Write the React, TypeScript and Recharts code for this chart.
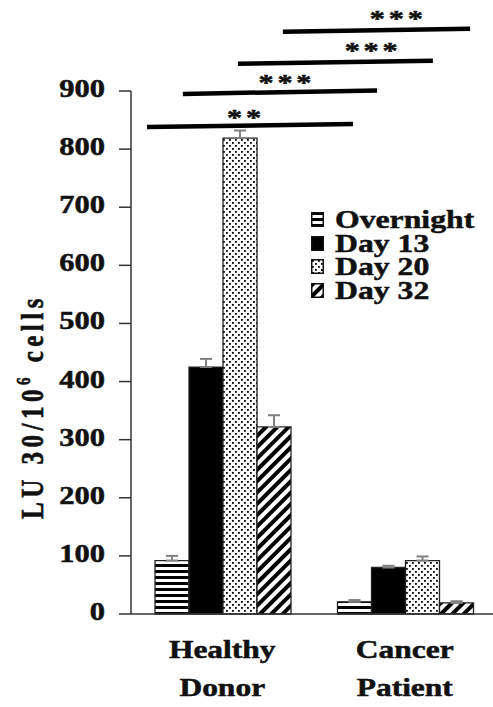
import { Bar, BarChart, ErrorBar, Legend, ReferenceDot, ReferenceLine, XAxis, YAxis } from "recharts";

const categories = ["Healthy Donor", "Cancer Patient"];
const seriesNames = ["Overnight", "Day 13", "Day 20", "Day 32"];
const overnight = [92, 21];
const day13 = [425, 80];
const day20 = [819, 92];
const day32 = [322, 19];
const overnightErr = [8, 3];
const day13Err = [14, 3];
const day20Err = [13, 7];
const day32Err = [20, 3];
const yTicks = [0, 100, 200, 300, 400, 500, 600, 700, 800, 900];

// significance bars: x as fraction of plot width (groups centred at 0.25 and 0.75), y in LU
const sigStartX = [0.044, 0.142, 0.293, 0.416];
const sigEndX = [0.608, 0.674, 0.827, 0.929];
const sigStartY = [838, 895, 947, 1002];
const sigEndY = [843, 901, 952, 1007];
const sigLabels = ["**", "***", "***", "***"];
const sigLabelX = [0.315, 0.427, 0.663, 0.732];
const sigLabelY = [860, 921, 976, 1030];

const FONT = "'Liberation Serif', 'Times New Roman', serif";
const STRETCH = 1.26;

const fills = ["url(#hstripe)", "#000", "url(#dots)", "url(#diag)"];
const keys = ["overnight", "day13", "day20", "day32"];

const data = categories.map((name, i) => ({
  name,
  overnight: overnight[i],
  day13: day13[i],
  day20: day20[i],
  day32: day32[i],
  overnightErr: [0, overnightErr[i]],
  day13Err: [0, day13Err[i]],
  day20Err: [0, day20Err[i]],
  day32Err: [0, day32Err[i]],
}));

const textStyle = { fontFamily: FONT, fontWeight: "bold" as const, fill: "#111", stroke: "#111", strokeWidth: 0.5 };

const YTick = ({ x, y, payload }: any) => (
  <g transform={`translate(${x},${y})`}>
    <text transform="scale(1.22,1)" textAnchor="end" dy={6} fontSize={25} {...textStyle}>
      {payload.value}
    </text>
  </g>
);

const XTick = ({ x, y, payload }: any) => {
  const parts = String(payload.value).split(" ");
  return (
    <g transform={`translate(${x},${y})`}>
      {parts.map((p, i) => (
        <text key={p} transform={`scale(${STRETCH},1)`} textAnchor="middle" y={44 + i * 38} fontSize={25} {...textStyle}>
          {p}
        </text>
      ))}
    </g>
  );
};

const YLabel = ({ viewBox }: any) => {
  const cx = viewBox.x + 43;
  const cy = viewBox.y + viewBox.height / 2 + 54;
  return (
    <text
      transform={`translate(${cx},${cy}) rotate(-90) scale(1,${STRETCH})`}
      textAnchor="middle"
      fontSize={25}
      letterSpacing={4.5}
      {...textStyle}
    >
      LU 30/10<tspan fontSize={15} dy={-10}>6</tspan>
      <tspan dy={10}> cells</tspan>
    </text>
  );
};

const Stars = (label: string) => (p: any) => (
  <text transform={`translate(${p.cx},${p.cy}) scale(${STRETCH},1)`} textAnchor="middle" dy={11} fontSize={24} letterSpacing={3} {...textStyle}>
    {label}
  </text>
);

const LegendBox = () => (
  <div style={{ fontFamily: FONT, fontWeight: "bold", fontSize: 26, color: "#111", WebkitTextStroke: "0.5px #111" }}>
    {seriesNames.map((n, i) => (
      <div key={n} style={{ display: "flex", alignItems: "center", height: 23.5 }}>
        <svg width={13} height={15} style={{ display: "block" }}>
          <rect x={0.75} y={0.75} width={11.5} height={13.5} fill={fills[i]} stroke="#111" strokeWidth={1.5} />
        </svg>
        <span style={{ marginLeft: 11, display: "inline-block", transform: `scaleX(${STRETCH - 0.04})`, transformOrigin: "left center", lineHeight: "23px", whiteSpace: "nowrap" }}>
          {n}
        </span>
      </div>
    ))}
  </div>
);

export default function App() {
  return (
    <div style={{ position: "fixed", left: 0, top: 0, width: 493, height: 707, overflow: "hidden", background: "#fff" }}>
      <svg width={0} height={0} style={{ position: "absolute" }}>
        <defs>
          <pattern id="hstripe" patternUnits="userSpaceOnUse" width={6} height={6}>
            <rect width={6} height={6} fill="#fff" />
            <rect width={6} height={3} fill="#000" />
          </pattern>
          <pattern id="dots" patternUnits="userSpaceOnUse" width={6} height={6}>
            <rect width={6} height={6} fill="#fff" />
            <rect x={1} y={1} width={1.8} height={1.8} fill="#000" />
            <rect x={4} y={4} width={1.8} height={1.8} fill="#000" />
          </pattern>
          <pattern id="diag" patternUnits="userSpaceOnUse" width={8} height={8} patternTransform="rotate(45)">
            <rect width={8} height={8} fill="#fff" />
            <rect width={4} height={8} fill="#000" />
          </pattern>
        </defs>
      </svg>
      <BarChart
        width={500}
        height={707}
        data={data}
        margin={{ top: 91, right: 4, bottom: 0, left: 0 }}
        barCategoryGap={24}
        barGap={0}
      >
        <XAxis dataKey="name" height={93} tick={<XTick />} tickLine={false} tickSize={0} tickMargin={0} axisLine={{ stroke: "#333", strokeWidth: 1.5 }} interval={0} />
        <XAxis xAxisId="ann" type="number" domain={[0, 1]} allowDataOverflow hide />
        <YAxis
          width={131}
          domain={[0, 900]}
          ticks={yTicks}
          interval={0}
          tickSize={12}
          tickMargin={14}
          tick={<YTick />}
          axisLine={{ stroke: "#333", strokeWidth: 1.5 }}
          tickLine={{ stroke: "#333", strokeWidth: 1.5 }}
          label={<YLabel />}
        />
        <Legend
          layout="vertical"
          align="center"
          verticalAlign="middle"
          content={<LegendBox />}
          wrapperStyle={{ position: "absolute", left: 311, top: 208, width: 180, height: 100 }}
        />
        {keys.map((k, i) => (
          <Bar key={k} dataKey={k} name={seriesNames[i]} fill={fills[i]} stroke="#222" strokeWidth={1.3} isAnimationActive={false}>
            <ErrorBar dataKey={`${k}Err`} width={6} stroke="#808080" strokeWidth={2} direction="y" />
          </Bar>
        ))}
        {sigLabels.map((s, i) => (
          <ReferenceLine
            key={`l${i}`}
            xAxisId="ann"
            segment={[
              { x: sigStartX[i], y: sigStartY[i] },
              { x: sigEndX[i], y: sigEndY[i] },
            ]}
            stroke="#000"
            strokeWidth={4.5}
            ifOverflow="visible"
          />
        ))}
        {sigLabels.map((s, i) => (
          <ReferenceDot key={`d${i}`} xAxisId="ann" x={sigLabelX[i]} y={sigLabelY[i]} r={0} ifOverflow="visible" shape={Stars(s)} />
        ))}
      </BarChart>
    </div>
  );
}
